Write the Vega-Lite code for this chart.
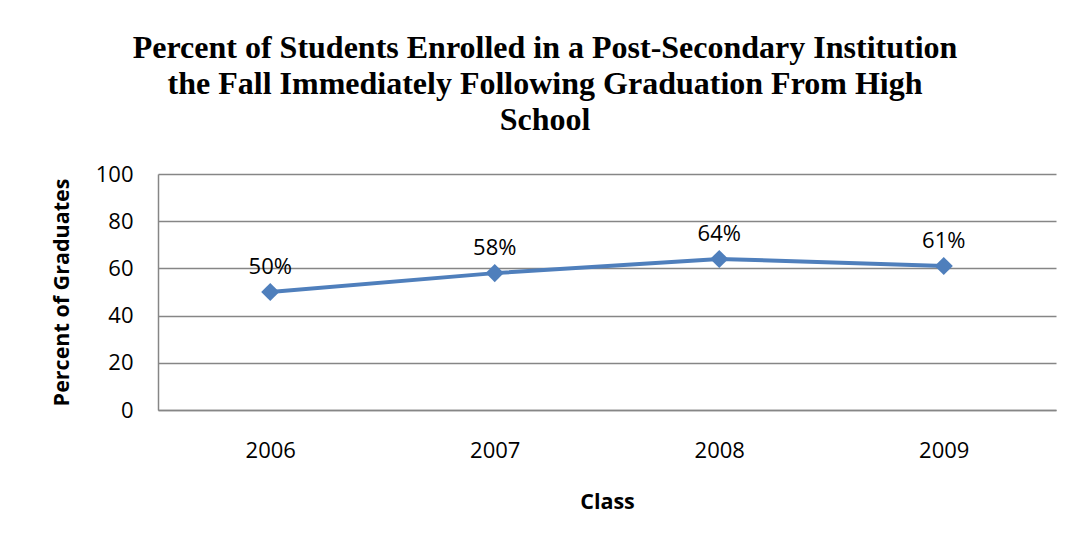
{
  "$schema": "https://vega.github.io/schema/vega-lite/v6.json",
  "autosize": {"type": "none"},
  "width": 898,
  "height": 236,
  "padding": {"left": 158, "top": 174, "right": 18, "bottom": 141},
  "background": "white",
  "title": {
    "text": ["Percent of Students Enrolled in a Post-Secondary Institution", "the Fall Immediately Following Graduation From High", "School"],
    "font": "Liberation Serif",
    "fontSize": 32,
    "fontWeight": "bold",
    "color": "#000000",
    "lineHeight": 36,
    "anchor": "middle",
    "dx": -62,
    "offset": 26
  },
  "data": {"values": [
    {"Class": "2006", "Percent": 50, "Label": "50%"},
    {"Class": "2007", "Percent": 58, "Label": "58%"},
    {"Class": "2008", "Percent": 64, "Label": "64%"},
    {"Class": "2009", "Percent": 61, "Label": "61%"}
  ]},
  "encoding": {
    "x": {"field": "Class", "type": "ordinal", "scale": {"paddingInner": 0, "paddingOuter": 0.5},
      "axis": {"title": "Class", "labelAngle": 0, "ticks": false, "tickSize": 0, "labelPadding": 30, "titlePadding": 30, "domainColor": "#868686", "domainWidth": 1.5, "grid": false}},
    "y": {"field": "Percent", "type": "quantitative", "scale": {"domain": [0, 100]},
      "axis": {"title": "Percent of Graduates", "values": [0, 20, 40, 60, 80, 100], "ticks": false, "tickSize": 0, "labelPadding": 25, "titlePadding": 22, "domainColor": "#868686", "domainWidth": 1.5, "grid": true, "gridColor": "#868686", "gridWidth": 1.5}}
  },
  "layer": [
    {"mark": {"type": "line", "color": "#4F7FBC", "strokeWidth": 4}},
    {"mark": {"type": "point", "shape": "diamond", "filled": true, "size": 330, "color": "#4F7FBC", "opacity": 1}},
    {"mark": {"type": "text", "dy": -25, "baseline": "middle", "font": "Open Sans", "fontSize": 22, "color": "#000000"}, "encoding": {"text": {"field": "Label"}}}
  ],
  "config": {
    "view": {"stroke": null},
    "axis": {
      "labelFont": "Open Sans", "labelFontSize": 22, "labelColor": "#000000",
      "titleFont": "Open Sans", "titleFontSize": 21.5, "titleFontWeight": "bold", "titleColor": "#000000"
    }
  }
}
